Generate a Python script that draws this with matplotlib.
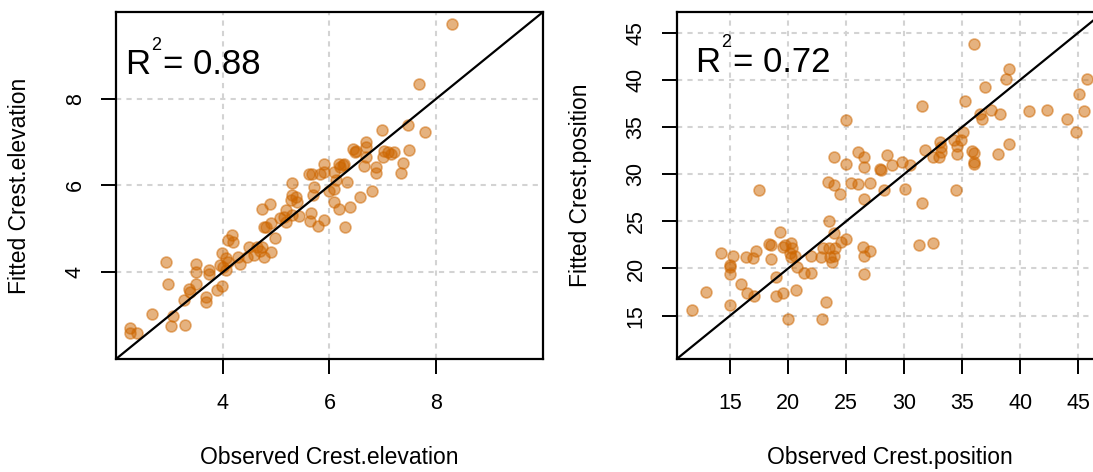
import matplotlib
matplotlib.use('Agg')
import matplotlib.pyplot as plt

plt.rcParams['font.family'] = ['Liberation Sans', 'DejaVu Sans']

# Crest.elevation: observed vs fitted
elev_obs = [8.29, 7.68, 6.99, 7.47, 7.78, 7.49, 7.37, 7.34, 6.68, 6.68, 6.44, 6.50, 7.02, 7.10,
            7.20, 7.15, 7.00, 6.68, 6.65, 6.88, 6.88, 6.28, 6.18, 5.89, 5.89, 6.08, 5.61, 5.67,
            6.33, 6.12, 6.08, 5.99, 5.71, 5.70, 5.29, 5.30, 5.37, 5.27, 5.39, 6.79, 6.57, 6.08,
            6.18, 6.38, 6.29, 5.89, 5.79, 5.64, 5.65, 5.42, 5.29, 5.19, 5.08, 4.74, 4.89, 4.77,
            4.82, 4.91, 4.98, 4.18, 4.09, 4.19, 3.98, 4.07, 4.01, 4.07, 4.29, 4.32, 4.45, 4.49,
            4.64, 4.73, 4.70, 4.59, 4.78, 4.90, 3.75, 3.74, 3.50, 3.49, 3.50, 3.37, 3.39, 3.27,
            3.69, 3.69, 3.89, 3.99, 2.94, 2.98, 2.68, 3.07, 3.03, 3.29, 2.27, 2.27, 2.39, 3.95,
            4.10, 5.19, 5.14, 5.82, 6.20, 6.26, 6.48]
elev_fit = [9.72, 8.33, 7.29, 7.39, 7.23, 6.82, 6.53, 6.28, 7.00, 6.89, 6.84, 6.80, 6.80, 6.78,
            6.78, 6.73, 6.66, 6.65, 6.46, 6.43, 6.28, 6.49, 6.49, 6.49, 6.32, 6.30, 6.26, 6.26,
            6.09, 6.13, 5.93, 5.88, 5.97, 5.78, 6.06, 5.78, 5.74, 5.66, 5.63, 5.88, 5.73, 5.63,
            5.45, 5.51, 5.05, 5.20, 5.07, 5.17, 5.36, 5.30, 5.33, 5.15, 5.24, 5.46, 5.57, 5.05,
            5.05, 5.13, 4.78, 4.86, 4.74, 4.70, 4.44, 4.32, 4.13, 4.05, 4.36, 4.20, 4.36, 4.59,
            4.59, 4.59, 4.50, 4.40, 4.36, 4.47, 4.05, 3.97, 4.20, 4.01, 3.73, 3.61, 3.54, 3.36,
            3.44, 3.32, 3.59, 3.68, 4.24, 3.73, 3.04, 2.99, 2.76, 2.78, 2.72, 2.61, 2.59, 4.17,
            4.24, 5.43, 5.28, 6.26, 6.43, 6.47, 6.78]

# Crest.position: observed vs fitted
pos_obs = [35.98, 39.02, 38.76, 37.01, 35.26, 31.52, 25.03, 36.52, 37.53, 36.75, 38.28, 40.75,
           42.27, 44.00, 44.77, 45.52, 45.03, 45.78, 35.09, 34.86, 34.57, 34.28, 34.57, 33.07,
           33.22, 33.22, 32.50, 32.99, 31.78, 35.89, 36.01, 36.01, 36.03, 38.05, 39.02, 34.51,
           31.52, 31.29, 32.50, 30.06, 30.52, 29.80, 28.99, 28.51, 27.96, 28.05, 28.28, 26.03,
           26.55, 26.55, 25.03, 23.99, 23.48, 23.99, 24.51, 25.46, 26.03, 27.04, 26.55, 17.50,
           23.53, 23.99, 24.60, 25.03, 23.02, 23.53, 24.02, 23.59, 23.94, 23.79, 22.87, 26.47,
           26.55, 27.04, 26.55, 22.01, 21.38, 22.01, 20.78, 20.34, 20.23, 20.63, 19.74, 20.29,
           19.28, 18.51, 18.36, 18.51, 17.27, 16.98, 16.41, 14.25, 15.26, 15.00, 15.00, 15.00,
           15.98, 16.49, 17.04, 12.96, 11.72, 15.00, 18.99, 18.94, 19.57, 20.72, 20.00, 23.25,
           22.96, 19.57, 20.14]
pos_fit = [43.77, 41.12, 40.10, 39.21, 37.77, 37.27, 35.79, 36.43, 36.85, 35.83, 36.43, 36.67,
           36.78, 35.83, 34.48, 36.67, 38.47, 40.13, 34.48, 33.60, 33.04, 33.60, 32.19, 33.43,
           32.90, 32.37, 31.84, 31.84, 32.54, 32.47, 32.26, 31.31, 31.13, 32.12, 33.25, 28.31,
           26.90, 22.48, 22.66, 28.41, 30.96, 31.31, 30.96, 32.05, 30.60, 30.43, 28.31, 32.30,
           31.84, 30.78, 31.03, 31.84, 29.19, 28.84, 27.88, 29.08, 28.91, 29.08, 27.35, 28.31,
           25.02, 23.72, 22.84, 23.12, 22.13, 22.13, 22.13, 21.25, 21.32, 20.72, 21.25, 22.31,
           21.35, 21.88, 19.41, 21.32, 19.48, 19.48, 20.19, 22.13, 21.25, 21.35, 22.48, 22.66,
           23.82, 22.48, 22.59, 20.97, 21.85, 21.07, 21.25, 21.67, 21.32, 20.37, 20.19, 19.38,
           18.35, 17.44, 17.08, 17.47, 15.60, 16.13, 19.13, 17.12, 17.36, 17.72, 14.65, 16.48,
           14.65, 22.31, 21.60]

elev_ticks = [4, 6, 8]
pos_ticks = [15, 20, 25, 30, 35, 40, 45]
elev_lim = (2, 10)
pos_lim = (10.4, 47.2)

fig = plt.figure(figsize=(10.93, 4.72), dpi=100)

paneles = [
    ([0.1061, 0.2394, 0.3907, 0.7352], elev_obs, elev_fit, elev_lim, elev_ticks,
     "Observed Crest.elevation", "Fitted Crest.elevation", "0.88", (0.021, 0.82)),
    ([0.6191, 0.2394, 0.3907, 0.7352], pos_obs, pos_fit, pos_lim, pos_ticks,
     "Observed Crest.position", "Fitted Crest.position", "0.72", (0.043, 0.828)),
]

for rect, obs, fit, lim, ticks, xlab, ylab, r2, pos in paneles:
    ax = fig.add_axes(rect)
    ax.set_xlim(lim)
    ax.set_ylim(lim)
    ax.set_xticks(ticks)
    ax.set_yticks(ticks)
    ax.grid(True, color='#D3D3D3', linestyle=(0, (2.5, 2.5)), linewidth=1.5)
    ax.set_axisbelow(True)
    ax.plot(lim, lim, color='black', linewidth=1.6, zorder=3)
    ax.scatter(obs, fit, s=62, color='#CD6600', alpha=0.5, linewidths=1.2, zorder=2)
    for s in ax.spines.values():
        s.set_linewidth(1.6)
    ax.tick_params(axis='both', length=10.8, width=1.4, labelsize=15.5)
    ax.tick_params(axis='x', pad=14)
    ax.tick_params(axis='y', pad=11)
    for lbl in ax.get_yticklabels():
        lbl.set_rotation(90)
        lbl.set_va('center')
    ax.set_xlabel(xlab, fontsize=16.5, va='center')
    ax.set_ylabel(ylab, fontsize=16.5, va='center')
    ax.xaxis.set_label_coords(0.5, -0.285)
    ax.yaxis.set_label_coords(-0.225, 0.5)

    # R^2 con superíndice pequeño, como en R
    t1 = ax.text(pos[0], pos[1], "R", transform=ax.transAxes,
                 fontsize=25, va='baseline', ha='left')
    t2 = ax.annotate("2", xy=(1, 1), xycoords=t1, xytext=(1, -4),
                     textcoords='offset points', fontsize=13, ha='left', va='bottom')
    ax.annotate("= " + r2, xy=(1, 0), xycoords=(t2, t1), xytext=(1, 0),
                textcoords='offset points', fontsize=25, ha='left', va='bottom')

fig.savefig("out.png", dpi=100)
